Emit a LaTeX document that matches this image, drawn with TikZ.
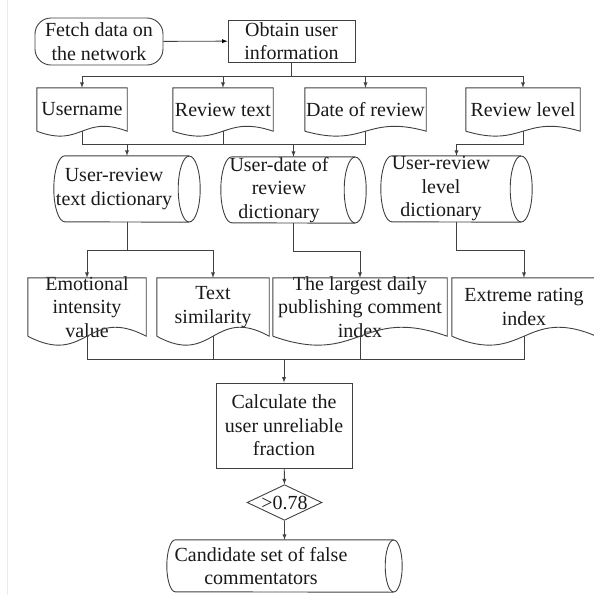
\documentclass[tikz,border=0pt]{standalone}
\usepackage{fontspec}
\setmainfont{Liberation Serif}
\usetikzlibrary{arrows,shapes,calc}

% outline of a document box: name, wave control offset
\newcommand{\docframe}[2]{%
  \draw[line] (#1.south west) -- (#1.north west) -- (#1.north east) -- (#1.south east)
    .. controls ($(#1.south)+(0,#2)$) and ($(#1.south)+(0,-#2)$) .. (#1.south west);}
% outline of a stored-data box: name, end x radius, end y radius
\newcommand{\storeframe}[3]{%
  \draw[line] ($(#1.north east)-(#2,0)$) -- ($(#1.north west)+(#2,0)$)
    arc[start angle=90,end angle=270,x radius=#2,y radius=#3] -- ($(#1.south east)-(#2,0)$);
  \draw[line] ($(#1.east)-(#2,0)$) ellipse[x radius=#2,y radius=#3];}

\begin{document}
\begin{tikzpicture}[x=1pt,y=1pt,>=latex]
      \tikzstyle{every node}=[font=\fontsize{20}{23.5}\selectfont,text=black!90]
      \tikzstyle{line}=[draw=black!75,line width=0.9pt]
      \tikzset{fixoff/.style n args={3}{inner sep=0pt,
          execute at begin node={\begin{minipage}[c][#2][c]{#1}\centering\rightskip=#3 plus 1fil},
          execute at end node={\end{minipage}}},
        fix/.style 2 args={fixoff={#1}{#2}{0pt}}}
      \tikzstyle{term}=[rectangle,line,rounded corners=16pt]
      \tikzstyle{proc}=[rectangle,line]
      \tikzstyle{doc}=[rectangle]
      \tikzstyle{store}=[rectangle]
      \tikzstyle{dec}=[diamond,line,inner sep=0pt,shape aspect=2.1]

      \useasboundingbox (0,0) rectangle (594,-595);
      \draw[black!8] (7,0) -- (7,-595);

      % top row
      \node[term,fix={128pt}{47pt}](fetch) at (99,-41.5){Fetch data on\\the network};
      \node[proc,fix={127pt}{42pt}](obtain) at (291.5,-41){Obtain user\\information};

      % fields
      \node[doc,fix={90pt}{43pt}](dUser) at (82,-109.5){Username};
      \node[doc,fix={100pt}{43pt}](dText) at (223,-109.5){Review text};
      \node[doc,fix={121pt}{43pt}](dDate) at (365.5,-109.5){Date of review};
      \node[doc,fix={114pt}{43pt}](dLevel) at (523,-109.5){Review level};

      % dictionaries
      \node[store,fixoff={146pt}{66pt}{26pt}](dict1) at (127,-189){User-review\\text dictionary};
      \node[store,fixoff={145pt}{66pt}{29pt}](dict2) at (293.5,-190){User-date of\\review\\dictionary};
      \node[store,fixoff={151pt}{66pt}{31pt}](dict3) at (456.5,-189){User-review\\level\\dictionary};

      % features
      \node[doc,fix={118pt}{58pt}](dEmo) at (87,-307){Emotional\\intensity\\value};
      \node[doc,fix={112pt}{58pt}](dSim) at (213,-307){Text\\similarity};
      \node[doc,fix={174pt}{58pt}](dDaily) at (360,-307){The largest daily\\publishing comment\\index};
      \node[doc,fix={144pt}{58pt}](dExt) at (524,-307){Extreme rating\\index};

      % result
      \node[proc,fix={136pt}{85pt}](calc) at (284,-425.5){Calculate the\\user unreliable\\fraction};
      \node[dec](thr) at (284.5,-502.5){>0.78};
      \node[store,fixoff={235pt}{52pt}{47pt}](cand) at (284.5,-566){Candidate set of false\\commentators};

      \docframe{dUser}{17}
      \docframe{dText}{17}
      \docframe{dDate}{17}
      \docframe{dLevel}{17}
      \docframe{dEmo}{31}
      \docframe{dSim}{31}
      \docframe{dDaily}{31}
      \docframe{dExt}{31}
      \storeframe{dict1}{11}{33}
      \storeframe{dict2}{11}{33}
      \storeframe{dict3}{11}{33}
      \storeframe{cand}{8.5}{26}

      \path[line,->] (fetch) edge (obtain);
      \draw[line] (obtain.south) -- ++(0,-14) coordinate (j0);
      \draw[line,->] (j0) -| (dUser.north);
      \draw[line,->] (j0) -| (dText.north);
      \draw[line,->] (j0) -| (dDate.north);
      \draw[line,->] (j0) -| (dLevel.north);

      \draw[line] (dUser.south) -- ++(0,-13) coordinate (j1) -| (dDate.south);
      \draw[line] (dText.south) -- (dText.south |- j1);
      \draw[line,->] (dict1.north |- j1) -- (dict1.north);
      \draw[line,->] (dict2.north |- j1) -- (dict2.north);
      \draw[line,->] (dLevel.south) -- (dLevel.south |- j1) -| (dict3.north);

      \draw[line] (dict1.south) -- ++(0,-28) coordinate (j2);
      \draw[line,->] (j2) -| (dEmo.north);
      \draw[line,->] (j2) -| (dSim.north);
      \draw[line,->] (dict2.south) -- ++(0,-28) -| (dDaily.north);
      \draw[line,->] (dict3.south) -- ++(0,-28) -| (dExt.north);

      \draw[line] (dEmo.south) -- ++(0,-23) coordinate (j3) -| (dExt.south);
      \draw[line] (dSim.south) -- (dSim.south |- j3);
      \draw[line] (dDaily.south) -- (dDaily.south |- j3);
      \draw[line,->] (calc.north |- j3) -- (calc.north);
      \draw[line,->] (calc) -- (thr);
      \draw[line,->] (thr) -- (cand);
\end{tikzpicture}
\end{document}
